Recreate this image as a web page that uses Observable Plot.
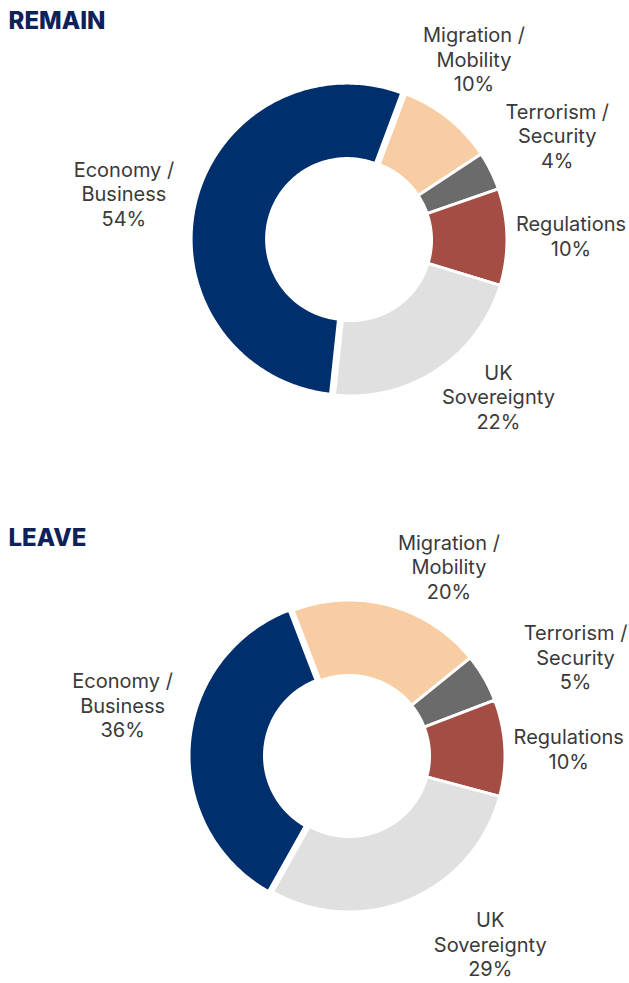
<!DOCTYPE html>
<html>
<head>
<meta charset="utf-8">
<script src="https://cdn.jsdelivr.net/npm/d3@7"></script>
<script src="https://cdn.jsdelivr.net/npm/@observablehq/plot@0.6"></script>
<style>
  body { margin: 0; background: #fff; }
  svg { display: block; }
</style>
</head>
<body>
<div id="chart"></div>
<script>
// ---- data ----
const categories = ["Migration / Mobility", "Terrorism / Security", "Regulations", "UK Sovereignty", "Economy / Business"];
const labelLines = ["Migration /\nMobility", "Terrorism /\nSecurity", "Regulations", "UK\nSovereignty", "Economy /\nBusiness"];
const remainShares = [10, 4, 10, 22, 54];
const leaveShares = [20, 5, 10, 29, 36];
const panelTitles = ["REMAIN", "LEAVE"];

// ---- styles / layout ----
const colors = ["#f9cda3", "#6b6b6b", "#a44d44", "#e0e0e0", "#002f6e"];
const W = 629;
const R_OUT = 156, R_IN = 80.5, LABEL_R = 220, EXPLODE = 4;
const panels = [
  {shares: remainShares, title: panelTitles[0], start: 20.5, cx: 350.5, cy: 239.5, height: 517,
   nudge: [[-14, -9], [9, -7], [0, 0], [26, -27], [-13, 4]]},
  {shares: leaveShares, title: panelTitles[1], start: 339, cx: 348.5, cy: 238.5, height: 466,
   nudge: [[43, 23], [36, 11], [0, 4], [56, -15], [-7, -35]]}
];
const rad = a => a * Math.PI / 180;

function donut(p) {
  const total = d3.sum(p.shares);
  let acc = 0;
  const slices = p.shares.map((v, i) => {
    const a0 = p.start + acc / total * 360;
    acc += v;
    const a1 = p.start + acc / total * 360;
    return {i, cat: categories[i], v, a0, a1, mid: (a0 + a1) / 2};
  });
  const pts = [];
  for (const s of slices) {
    const off = s.i === categories.length - 1 ? EXPLODE : 0;
    const ox = off * Math.sin(rad(s.mid)), oy = -off * Math.cos(rad(s.mid));
    const n = Math.max(2, Math.ceil(s.a1 - s.a0));
    for (let k = 0; k <= n; k++) {
      const a = rad(s.a0 + (s.a1 - s.a0) * k / n);
      pts.push({cat: s.cat, x: ox + R_OUT * Math.sin(a), y: oy - R_OUT * Math.cos(a)});
    }
    for (let k = n; k >= 0; k--) {
      const a = rad(s.a0 + (s.a1 - s.a0) * k / n);
      pts.push({cat: s.cat, x: ox + R_IN * Math.sin(a), y: oy - R_IN * Math.cos(a)});
    }
  }
  const labels = slices.map(s => ({
    text: `${labelLines[s.i]}\n${s.v}%`,
    x: LABEL_R * Math.sin(rad(s.mid)) + p.nudge[s.i][0],
    y: -LABEL_R * Math.cos(rad(s.mid)) + p.nudge[s.i][1]
  }));
  return Plot.plot({
    width: W,
    height: p.height,
    margin: 0,
    style: {fontFamily: "Inter, 'Open Sans', sans-serif", background: "#fff"},
    x: {domain: [-p.cx, W - p.cx], range: [0, W], axis: null},
    y: {domain: [-p.cy, p.height - p.cy], range: [0, p.height], axis: null},
    color: {domain: categories, range: colors},
    marks: [
      Plot.line(pts, {x: "x", y: "y", z: "cat", fill: "cat", stroke: "white", strokeWidth: 3, curve: "linear-closed"}),
      Plot.text(labels, {x: "x", y: "y", text: "text", fontSize: 20, lineHeight: 1.23, fill: "#3a3a3a"}),
      Plot.text([p.title], {frameAnchor: "top-left", text: d => d, dx: 8, dy: 11, lineAnchor: "top", textAnchor: "start",
        fontSize: 24, fontWeight: 800, fill: "#0f2159"})
    ]
  });
}

const root = document.getElementById("chart");
for (const p of panels) root.appendChild(donut(p));
</script>
</body>
</html>
